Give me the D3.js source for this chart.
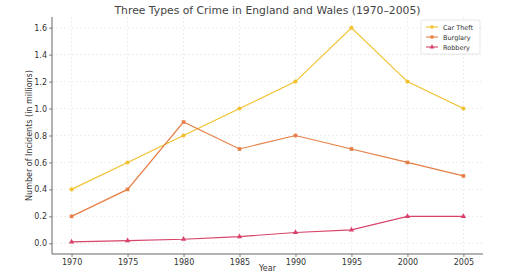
<!DOCTYPE html>
<html>
<head>
<meta charset="utf-8">
<script src="https://cdn.jsdelivr.net/npm/d3@7"></script>
<style>
  body { margin: 0; background: #fff; }
  svg { font-family: "DejaVu Sans", sans-serif; }
</style>
</head>
<body>
<div id="chart"></div>
<script>
// Data
const years = [1970, 1975, 1980, 1985, 1990, 1995, 2000, 2005];
const carTheft = [0.4, 0.6, 0.8, 1.0, 1.2, 1.6, 1.2, 1.0];
const burglary = [0.2, 0.4, 0.9, 0.7, 0.8, 0.7, 0.6, 0.5];
const robbery = [0.01, 0.02, 0.03, 0.05, 0.08, 0.10, 0.20, 0.20];
const yTickValues = [0, 0.2, 0.4, 0.6, 0.8, 1.0, 1.2, 1.4, 1.6];

const series = [
    { name: "Car Theft", values: carTheft, color: "#f2c12e", symbol: d3.symbolCircle },
    { name: "Burglary", values: burglary, color: "#e67e45", symbol: d3.symbolSquare },
    { name: "Robbery", values: robbery, color: "#d8436a", symbol: d3.symbolTriangle }
];

const W = 512, H = 275;
const margin = { top: 17, right: 29, bottom: 21, left: 52 };
const width = W - margin.left - margin.right,
    height = H - margin.top - margin.bottom;

const svg = d3.select("#chart")
    .append("svg")
    .attr("width", W)
    .attr("height", H);

const g = svg.append("g")
    .attr("transform", `translate(${margin.left},${margin.top})`);

const x = d3.scaleLinear()
    .domain([1970 - 1.75, 2005 + 1.75])
    .range([0, width]);

const y = d3.scaleLinear()
    .domain([-0.0795, 1.6795])
    .range([height, 0]);

// Grid lines
g.selectAll(".vgrid")
    .data(years)
    .enter().append("line")
    .attr("x1", d => x(d)).attr("x2", d => x(d))
    .attr("y1", 0).attr("y2", height)
    .attr("stroke", "#e2e2e2")
    .attr("stroke-width", 0.6)
    .attr("stroke-dasharray", "2,2");

g.selectAll(".hgrid")
    .data(yTickValues)
    .enter().append("line")
    .attr("x1", 0).attr("x2", width)
    .attr("y1", d => y(d)).attr("y2", d => y(d))
    .attr("stroke", "#e2e2e2")
    .attr("stroke-width", 0.6)
    .attr("stroke-dasharray", "2,2");

// Axes
const xAxis = g.append("g")
    .attr("transform", `translate(0,${height})`)
    .call(d3.axisBottom(x).tickValues(years).tickFormat(d3.format("d")).tickSize(3).tickPadding(2));

const yAxis = g.append("g")
    .call(d3.axisLeft(y).tickValues(yTickValues).tickFormat(d3.format(".1f")).tickSize(3).tickPadding(2));

[xAxis, yAxis].forEach(a => {
    a.select(".domain").attr("stroke", "#555").attr("stroke-width", 0.9);
    a.selectAll(".tick line").attr("stroke", "#555").attr("stroke-width", 0.7);
    a.selectAll("text").attr("fill", "#333").attr("font-size", "8px")
        .attr("font-family", "DejaVu Sans, sans-serif");
});
// Close the spine corner (matplotlib has no outer tick caps)
xAxis.select(".domain").attr("d", `M0,0H${width}`);
yAxis.select(".domain").attr("d", `M0,0V${height}`);

// Lines and markers
const line = d3.line()
    .x((d, i) => x(years[i]))
    .y(d => y(d));

series.forEach(s => {
    g.append("path")
        .datum(s.values)
        .attr("fill", "none")
        .attr("stroke", s.color)
        .attr("stroke-width", 1.2)
        .attr("d", line);

    g.selectAll(null)
        .data(s.values)
        .enter().append("path")
        .attr("transform", (d, i) => `translate(${x(years[i])},${y(d)})`)
        .attr("d", d3.symbol().type(s.symbol).size(13))
        .attr("fill", s.color);
});

// Title
svg.append("text")
    .attr("x", margin.left + width / 2)
    .attr("y", 14)
    .attr("text-anchor", "middle")
    .attr("fill", "#444")
    .attr("font-size", "10.8px")
    .text("Three Types of Crime in England and Wales (1970\u20132005)");

// Axis labels
svg.append("text")
    .attr("x", margin.left + width / 2)
    .attr("y", H - 4)
    .attr("text-anchor", "middle")
    .attr("fill", "#333")
    .attr("font-size", "8px")
    .text("Year");

svg.append("text")
    .attr("transform", `translate(32,${margin.top + height / 2}) rotate(-90)`)
    .attr("text-anchor", "middle")
    .attr("fill", "#333")
    .attr("font-size", "8px")
    .text("Number of Incidents (in millions)");

// Legend
const legend = g.append("g")
    .attr("transform", `translate(${width - 62},3)`);

legend.append("rect")
    .attr("width", 59)
    .attr("height", 34)
    .attr("rx", 2)
    .attr("fill", "#fff")
    .attr("fill-opacity", 0.85)
    .attr("stroke", "#ddd")
    .attr("stroke-width", 0.7);

series.forEach((s, i) => {
    const ly = 7 + i * 10;
    legend.append("line")
        .attr("x1", 5).attr("x2", 17)
        .attr("y1", ly).attr("y2", ly)
        .attr("stroke", s.color)
        .attr("stroke-width", 1.1);
    legend.append("path")
        .attr("transform", `translate(11,${ly})`)
        .attr("d", d3.symbol().type(s.symbol).size(10))
        .attr("fill", s.color);
    legend.append("text")
        .attr("x", 22)
        .attr("y", ly + 2.5)
        .attr("fill", "#333")
        .attr("font-size", "6.5px")
        .text(s.name);
});
</script>
</body>
</html>
